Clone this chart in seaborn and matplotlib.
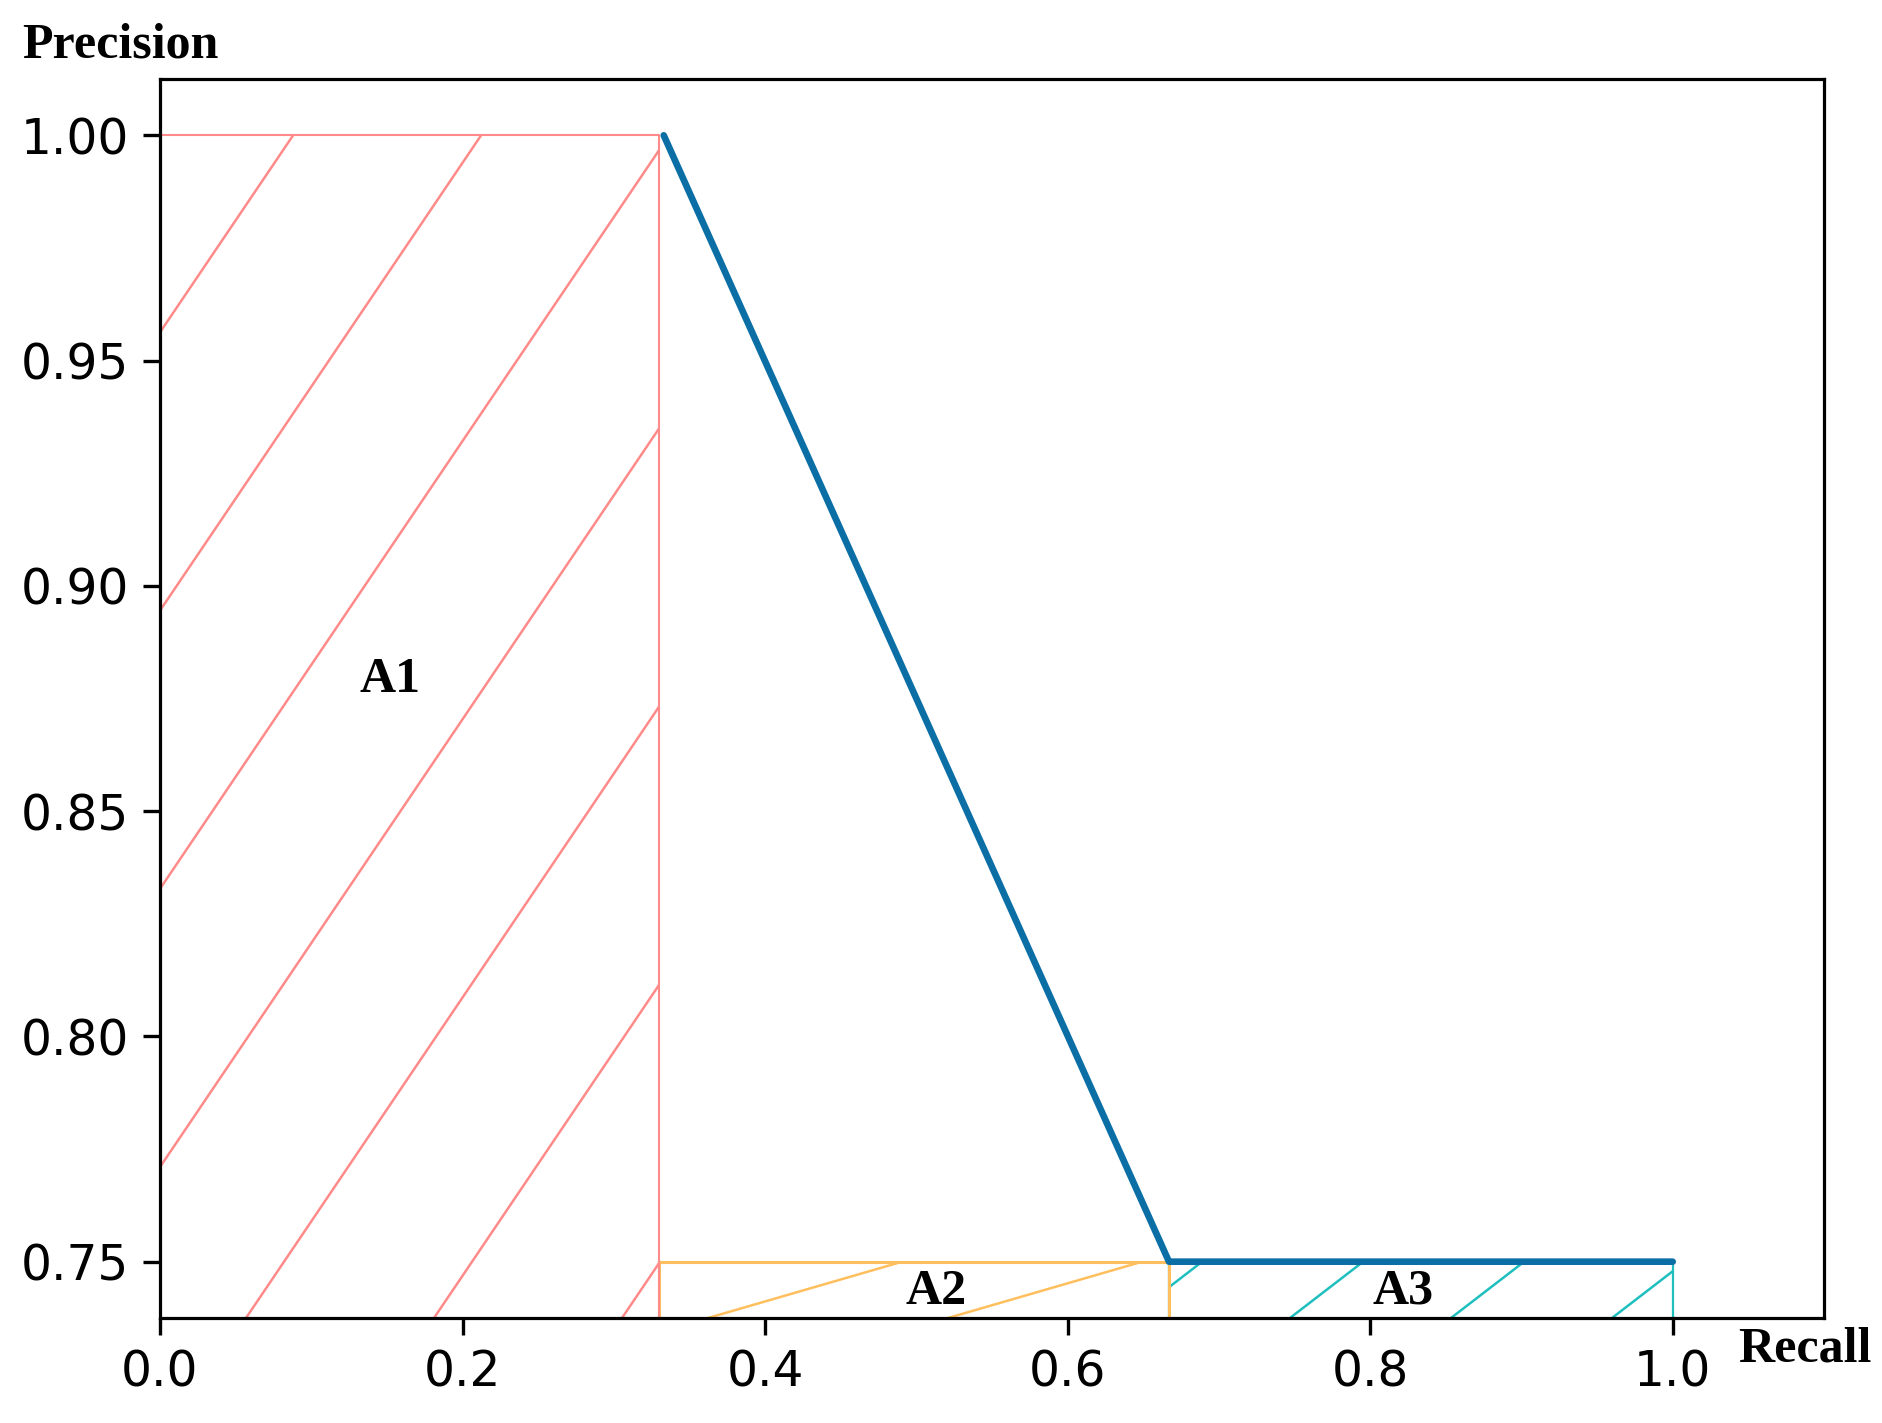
import numpy as np
import pandas as pd
import matplotlib
matplotlib.use("Agg")
import matplotlib.pyplot as plt
import seaborn as sns
from matplotlib.collections import LineCollection
from matplotlib.transforms import IdentityTransform

# ---- data ----
recall = [0.333, 0.667, 1.0]
precision = [1.0, 0.75, 0.75]

area_labels = ["A1", "A2", "A3"]
area_left = [0.0, 0.33, 0.667]
area_right = [0.33, 0.667, 1.0]
area_top = [1.0, 0.75, 0.75]
label_x = [0.152, 0.513, 0.822]
label_y = [0.879, 0.7433, 0.7433]

xticks = [0.0, 0.2, 0.4, 0.6, 0.8, 1.0]
yticks = [0.75, 0.80, 0.85, 0.90, 0.95, 1.00]

# ---- style ----
area_colors = ["#ff8a8a", "#ffbf5e", "#20bfbf"]
edge_widths = [1.5, 2.2, 1.6]
area_z = [2.3, 2.2, 2.1]
# hatch styling (slope dy/dx in pixels, spacing px, anchor px)
hatch_slope = [1.48, 0.29, 0.77]
hatch_spacing = [188, 240, 161]
hatch_anchor = [58, 708, 1290]
line_color = "#0b6fa6"

sns.set_theme(style="ticks")
plt.rcParams["font.family"] = ["DejaVu Sans"]

W, H, DPI = 1882, 1423, 100
fig = plt.figure(figsize=(W / DPI, H / DPI), dpi=DPI)
ax_l, ax_r, ax_t, ax_b = 160, 1824, 79, 1318
ax = fig.add_axes([ax_l / W, 1 - ax_b / H, (ax_r - ax_l) / W, (ax_b - ax_t) / H])

ax.set_xlim(0.0, 1.1)
ax.set_ylim(0.7375, 1.0125)

df = pd.DataFrame({"Recall": recall, "Precision": precision})

y_low = 0.70
for i in range(3):
    poly = ax.fill_between([area_left[i], area_right[i]], y_low, area_top[i],
                           facecolor="none", edgecolor=area_colors[i],
                           linewidth=edge_widths[i], zorder=area_z[i])
    # hatch lines drawn in pixel space, clipped to the area polygon
    y0 = H - ax_b - 50
    y1 = H - ax_t + 50
    segs = []
    for k in range(-30, 30):
        xb = hatch_anchor[i] + k * hatch_spacing[i]
        xa = xb - 50 / hatch_slope[i]
        xz = xb + (y1 - (H - ax_b)) / hatch_slope[i]
        segs.append([(xa, y0), (xz, y1)])
    lc = LineCollection(segs, colors=area_colors[i], linewidths=1.8,
                        transform=IdentityTransform(), zorder=area_z[i])
    ax.add_collection(lc, autolim=False)
    lc.set_clip_path(poly.get_paths()[0], poly.get_transform())
    ax.text(label_x[i], label_y[i], area_labels[i], ha="center", va="center",
            fontsize=36, fontweight="bold", family="Liberation Serif",
            color="black", zorder=4)

sns.lineplot(data=df, x="Recall", y="Precision", ax=ax, color=line_color,
             linewidth=4.8, zorder=3, sort=False)

ax.set_xlim(0.0, 1.1)
ax.set_ylim(0.7375, 1.0125)
ax.set_xticks(xticks)
ax.set_yticks(yticks)
ax.set_xticklabels([f"{v:.1f}" for v in xticks])
ax.set_yticklabels([f"{v:.2f}" for v in yticks])
ax.set_xlabel("")
ax.set_ylabel("")
ax.tick_params(axis="both", labelsize=35, length=12, width=2.4, color="black",
               labelcolor="black", pad=10)
for s in ax.spines.values():
    s.set_visible(True)
    s.set_color("black")
    s.set_linewidth(2.3)

fig.text(120 / W, 1 - 45 / H, "Precision", ha="center", va="center",
         fontsize=36, fontweight="bold", family="Liberation Serif", color="black")
fig.text(1805 / W, 1 - 1350 / H, "Recall", ha="center", va="center",
         fontsize=36, fontweight="bold", family="Liberation Serif", color="black")

fig.savefig("out.png", dpi=DPI, facecolor="white")
